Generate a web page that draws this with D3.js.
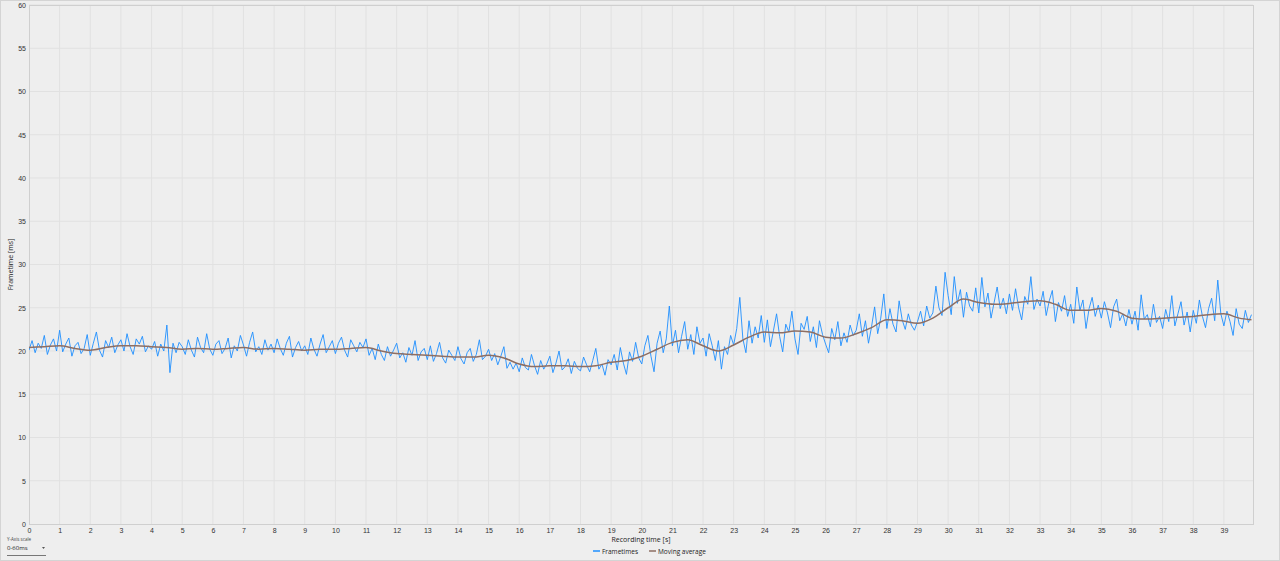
<!DOCTYPE html>
<html>
<head>
<meta charset="utf-8">
<script src="https://cdn.jsdelivr.net/npm/d3@7"></script>
<style>
	html, body { margin: 0; padding: 0; background: #eeeeee; }
	svg { display: block; font-family: "Open Sans", "Noto Sans", sans-serif; }
</style>
</head>
<body>
<svg id="chart" width="1280" height="561"></svg>
<script>
// Frametimes, 10 samples per second (ms)
var frameStep = 0.1;
var frametimes = [
	20.1, 21.2, 19.8, 20.9, 20.3, 21.8, 19.6, 20.7, 21.4, 20.0,
	22.4, 19.9, 20.8, 21.5, 19.4, 20.6, 21.0, 19.7, 20.3, 21.9,
	19.5, 20.9, 22.2, 20.1, 19.3, 21.2, 20.4, 21.6, 19.8, 20.7,
	21.3, 20.0, 22.0, 20.5, 19.6, 21.4, 20.8, 21.7, 19.9, 20.6,
	20.2, 21.1, 19.4, 20.8, 20.0, 23.0, 17.5, 20.9, 19.8, 21.0,
	20.5, 19.6, 21.3, 20.1, 19.3, 21.6, 20.4, 19.8, 22.0, 20.2,
	19.5, 20.8, 21.2, 19.7, 20.3, 21.5, 19.2, 20.6, 20.0, 21.8,
	20.7, 19.4, 21.0, 22.2, 19.9, 20.5, 19.6, 21.3, 20.1, 20.8,
	19.8, 21.4, 20.3, 19.5, 20.9, 21.7, 19.3, 20.4, 21.1, 20.0,
	20.6, 19.6, 21.5, 20.2, 19.4, 20.8, 21.9, 19.8, 20.5, 21.2,
	19.7, 20.9, 21.6, 20.1, 19.3, 21.3, 20.6, 19.9, 21.0, 20.4,
	21.4, 19.5, 20.3, 19.0, 20.8, 19.6, 18.9, 20.5, 19.4, 20.1,
	20.9, 19.2, 19.8, 18.7, 20.4, 19.5, 21.2, 18.9, 19.9, 20.3,
	19.0, 20.6, 18.8, 19.7, 21.0, 19.2, 18.6, 20.1, 19.5, 18.9,
	20.5, 19.1, 18.5, 19.8, 20.3, 18.8, 19.6, 21.3, 19.0, 19.4,
	20.2, 18.9, 19.7, 18.4, 19.4, 20.5, 18.0, 18.7, 17.9, 18.6,
	17.6, 19.2, 18.1, 17.8, 19.6, 18.3, 17.3, 18.9, 17.9, 18.5,
	19.4, 17.5, 18.6, 20.0, 17.8, 18.2, 19.1, 17.4, 18.8, 18.0,
	17.7, 19.3, 18.4, 17.6, 18.9, 20.3, 17.9, 18.5, 17.2, 19.0,
	18.4, 19.6, 17.8, 20.4, 18.6, 17.3, 19.9, 18.8, 21.0, 19.2,
	18.5, 20.6, 21.8, 19.4, 17.6, 20.9, 22.3, 19.8, 21.4, 25.2,
	20.6, 22.4, 19.8, 21.7, 23.4, 20.2, 21.9, 19.6, 22.8, 20.9,
	21.5, 19.4, 22.0, 20.6, 18.9, 21.2, 17.9, 20.5, 19.6, 21.8,
	20.7, 22.6, 26.2, 21.4, 19.8, 23.5, 20.9, 22.8, 21.5, 24.1,
	21.0, 23.6, 20.5, 22.4, 24.3, 21.7, 19.9, 23.1, 22.2, 24.6,
	21.4, 19.6, 23.2, 22.5, 24.0, 21.1, 22.8, 20.4, 23.5, 21.9,
	20.8, 19.8, 22.6, 21.3, 23.4, 20.6, 22.1, 21.0, 23.0, 21.8,
	22.4, 24.3, 21.7, 23.5, 20.9, 22.8, 25.1, 22.0, 23.8, 26.6,
	22.6, 24.9, 23.1, 22.2, 25.8, 23.6, 22.5, 24.3, 23.0, 22.4,
	23.4, 24.6, 22.9, 25.2, 23.8, 24.4, 27.5, 25.0, 24.1, 29.1,
	26.4, 24.2, 28.6, 25.5, 27.1, 23.9, 26.8, 25.2, 24.6, 27.3,
	24.4, 28.5, 25.1, 26.7, 23.8, 25.6, 27.4, 24.9, 26.1, 24.3,
	26.6, 24.7, 27.2, 25.0, 23.6, 26.3, 25.4, 28.6, 24.8, 26.0,
	25.2, 26.9, 24.1, 25.8, 27.0, 23.4, 25.6, 24.6, 26.4, 24.0,
	25.4, 23.2, 27.4, 24.7, 25.9, 22.6, 24.9, 26.2, 24.0, 25.3,
	23.8, 25.7, 24.4, 22.7, 25.1, 26.0, 23.5, 24.3, 22.9, 24.8,
	23.1, 24.6, 22.4, 26.5, 23.7, 24.2, 22.8, 25.4, 23.3, 24.0,
	22.6, 24.8, 23.4, 26.4, 22.9, 24.3, 25.7, 23.0, 24.5, 22.2,
	24.7, 23.2, 25.9, 24.0, 22.7, 24.9, 26.1, 23.5, 28.2, 24.3,
	22.9, 24.6, 23.4, 21.8, 24.9, 23.1, 22.6, 24.7, 23.3, 24.2
];

// Moving average, every half second (ms)
var avgStep = 0.5;
var movingAverage = [
	20.4, 20.5, 20.6, 20.3, 20.1, 20.4, 20.6, 20.6, 20.5, 20.4,
	20.2, 20.3, 20.2, 20.3, 20.4, 20.2, 20.3, 20.2, 20.1, 20.2,
	20.2, 20.3, 20.4, 20.0, 19.7, 19.6, 19.5, 19.4, 19.3, 19.3,
	19.5, 19.2, 18.5, 18.2, 18.3, 18.3, 18.2, 18.3, 18.7, 18.9,
	19.4, 20.2, 21.0, 21.3, 20.6, 20.0, 20.7, 21.6, 22.2, 22.1,
	22.3, 22.2, 21.6, 21.5, 22.0, 22.7, 23.6, 23.5, 23.2, 23.8,
	25.0, 26.0, 25.6, 25.4, 25.5, 25.7, 25.8, 25.4, 24.7, 24.7,
	24.9, 24.6, 23.8, 23.7, 23.8, 23.9, 24.0, 24.2, 24.3, 23.8,
	23.6
];

var yTicks = [0, 5, 10, 15, 20, 25, 30, 35, 40, 45, 50, 55, 60];
var xTicks = d3.range(0, 40);
var legendItems = ["Frametimes", "Moving average"];
var seriesColors = ["#1e8fff", "#8d6e63"];

var margin = {top: 5, right: 27, bottom: 37, left: 29};
var width = 1280, height = 561;

var svg = d3.select("#chart");

// outer frame
svg.append("rect")
	.attr("x", 0.5).attr("y", 0.5)
	.attr("width", width - 1).attr("height", height - 1)
	.attr("fill", "#eeeeee")
	.attr("stroke", "#d4d4d4");

var x = d3.scaleLinear().domain([0, 39.95]).range([margin.left, width - margin.right]);
var y = d3.scaleLinear().domain([0, 60]).range([height - margin.bottom, margin.top]);

// grid
svg.append("g").selectAll("line").data(xTicks.slice(1)).join("line")
	.attr("x1", function(d) { return x(d); }).attr("x2", function(d) { return x(d); })
	.attr("y1", y(0)).attr("y2", y(60))
	.attr("stroke", "#e1e1e1");
svg.append("g").selectAll("line").data(yTicks.slice(1)).join("line")
	.attr("x1", x.range()[0]).attr("x2", x.range()[1])
	.attr("y1", function(d) { return y(d); }).attr("y2", function(d) { return y(d); })
	.attr("stroke", "#e1e1e1");

// plot border
svg.append("rect")
	.attr("x", x.range()[0] + 0.5).attr("y", y(60) + 0.5)
	.attr("width", x.range()[1] - x.range()[0]).attr("height", y(0) - y(60))
	.attr("fill", "none")
	.attr("stroke", "#cfcfcf");

// axes
var xAxis = svg.append("g")
	.attr("transform", "translate(0," + y(0) + ")")
	.call(d3.axisBottom(x).tickValues(xTicks).tickSize(0).tickPadding(4));
var yAxis = svg.append("g")
	.attr("transform", "translate(" + x.range()[0] + ",0)")
	.call(d3.axisLeft(y).tickValues(yTicks).tickSize(0).tickPadding(3));
[xAxis, yAxis].forEach(function(a) {
	a.select(".domain").remove();
	a.selectAll("text").attr("fill", "#333").style("font-size", "7px");
});

svg.append("text")
	.attr("transform", "translate(13," + ((y(0) + y(60)) / 2) + ") rotate(-90)")
	.attr("text-anchor", "middle")
	.attr("fill", "#222").style("font-size", "7px")
	.text("Frametime [ms]");
svg.append("text")
	.attr("x", (x.range()[0] + x.range()[1]) / 2).attr("y", 542)
	.attr("text-anchor", "middle")
	.attr("fill", "#222").style("font-size", "7px")
	.text("Recording time [s]");

// series
svg.append("clipPath").attr("id", "plotclip").append("rect")
	.attr("x", x.range()[0]).attr("y", y(60))
	.attr("width", x.range()[1] - x.range()[0]).attr("height", y(0) - y(60));

var plot = svg.append("g").attr("clip-path", "url(#plotclip)");

var frameLine = d3.line()
	.x(function(d, i) { return x(i * frameStep); })
	.y(function(d) { return y(d); });
plot.append("path")
	.datum(frametimes)
	.attr("fill", "none")
	.attr("stroke", seriesColors[0])
	.attr("stroke-width", 0.9)
	.attr("d", frameLine);

var avgLine = d3.line()
	.x(function(d, i) { return x(Math.min(i * avgStep, 39.9)); })
	.y(function(d) { return y(d); })
	.curve(d3.curveMonotoneX);
plot.append("path")
	.datum(movingAverage)
	.attr("fill", "none")
	.attr("stroke", seriesColors[1])
	.attr("stroke-width", 1.5)
	.attr("d", avgLine);

// legend, second item placed after first label
var legend = svg.append("g").attr("transform", "translate(593,551)");
var legendPos = 0;
legendItems.forEach(function(name, i) {
	var item = legend.append("g").attr("transform", "translate(" + legendPos + ",0)");
	item.append("line")
		.attr("x1", 0).attr("x2", 7)
		.attr("stroke", seriesColors[i])
		.attr("stroke-width", 1.5);
	var label = item.append("text")
		.attr("x", 9).attr("y", 2.5)
		.attr("fill", "#222").style("font-size", "6.5px")
		.text(name);
	legendPos += 9 + label.node().getComputedTextLength() + 11;
});

// y-axis scale selector
svg.append("text")
	.attr("x", 7).attr("y", 541)
	.attr("fill", "#444").style("font-size", "4.5px")
	.text("Y-Axis scale");
svg.append("text")
	.attr("x", 7).attr("y", 550)
	.attr("fill", "#222").style("font-size", "6px")
	.text("0-60ms");
svg.append("path")
	.attr("d", "M42,547 L45,547 L43.5,549 Z")
	.attr("fill", "#555");
svg.append("line")
	.attr("x1", 7).attr("x2", 46)
	.attr("y1", 555.5).attr("y2", 555.5)
	.attr("stroke", "#777");
</script>
</body>
</html>
